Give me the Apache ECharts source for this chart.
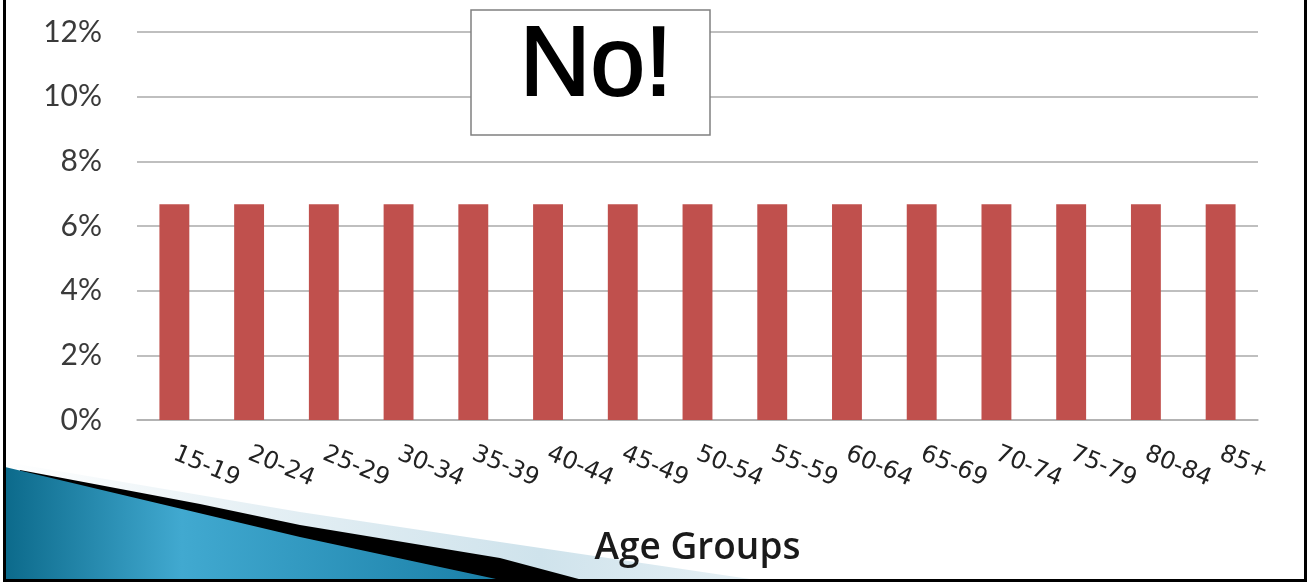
<!DOCTYPE html>
<html><head><meta charset="utf-8">
<script src="https://cdn.jsdelivr.net/npm/echarts@6/dist/echarts.min.js"></script>
<style>html,body{margin:0;padding:0;background:#fff}#c{width:1311px;height:582px}</style>
</head><body><div id="c"></div>
<script>
const categories = ['15-19','20-24','25-29','30-34','35-39','40-44','45-49','50-54','55-59','60-64','65-69','70-74','75-79','80-84','85+'];
const shares = [6.67, 6.67, 6.67, 6.67, 6.67, 6.67, 6.67, 6.67, 6.67, 6.67, 6.67, 6.67, 6.67, 6.67, 6.67];
const yMin = 0, yMax = 12, yStep = 2;
const xTitle = 'Age Groups';
const calloutText = 'No!';

const chart = echarts.init(document.getElementById('c'), null, {renderer: 'canvas'});
chart.setOption({
  animation: false,
  backgroundColor: '#ffffff',
  grid: {left: 137, right: 53, top: 32, bottom: 162, containLabel: false},
  xAxis: {
    type: 'category',
    data: categories,
    boundaryGap: true,
    axisLine: {show: true, lineStyle: {color: '#b0b0b0', width: 1.5}},
    axisTick: {show: false},
    axisLabel: {rotate: -23, margin: 33, fontFamily: 'DejaVu Sans', fontSize: 24, color: '#222222', interval: 0},
    name: xTitle,
    nameLocation: 'middle',
    nameGap: 110,
    nameTextStyle: {fontFamily: 'Open Sans', fontWeight: 600, fontSize: 37, color: '#1a1a1a'}
  },
  yAxis: {
    type: 'value',
    min: yMin, max: yMax, interval: yStep,
    axisLine: {show: false},
    axisTick: {show: false},
    axisLabel: {formatter: '{value}%', margin: 35, fontFamily: 'Lato', fontSize: 30, color: '#3a3a3a'},
    splitLine: {lineStyle: {color: '#aaaaaa', width: 1.5}}
  },
  series: [{
    type: 'bar',
    data: shares,
    barCategoryGap: '60%',
    itemStyle: {color: '#C0504D'}
  }],
  graphic: [
    {type: 'polygon', z: -10, silent: true,
     shape: {points: [[5,462],[300,512],[500,542],[770,582],[5,582]]},
     style: {fill: new echarts.graphic.LinearGradient(0,0,1,0,[{offset:0,color:'#ffffff'},{offset:0.35,color:'#e4eff4'},{offset:0.7,color:'#cfe3ec'},{offset:1,color:'#e8f1f5'}])}},
    {type: 'polygon', z: -9, silent: true,
     shape: {points: [[20,470],[200,504],[300,525],[500,558],[590,582],[5,582]]},
     style: {fill: '#000000'}},
    {type: 'polygon', z: -8, silent: true,
     shape: {points: [[5,467],[300,537],[510,582],[5,582]]},
     style: {fill: new echarts.graphic.LinearGradient(0,0,1,0,[{offset:0,color:'#0c6a8b'},{offset:0.35,color:'#41a9d0'},{offset:1,color:'#197ea6'}])}},
    {type: 'rect', z: 100, silent: true,
     shape: {x: 471, y: 10, width: 239, height: 125},
     style: {fill: '#ffffff', stroke: '#808080', lineWidth: 1.5}},
    {type: 'text', z: 101, silent: true,
     style: {x: 596, y: 68, text: calloutText, fontFamily: 'Liberation Sans', fontSize: 98, fill: '#000000', stroke: '#000000', lineWidth: 2, textAlign: 'center', textVerticalAlign: 'middle'}},
    {type: 'rect', z: 110, silent: true, shape: {x: 3, y: 0, width: 3, height: 582}, style: {fill: '#000000'}},
    {type: 'rect', z: 110, silent: true, shape: {x: 1304, y: 0, width: 3, height: 582}, style: {fill: '#000000'}},
    {type: 'rect', z: 110, silent: true, shape: {x: 3, y: 579, width: 1304, height: 3}, style: {fill: '#000000'}}
  ]
});
</script>
</body></html>
